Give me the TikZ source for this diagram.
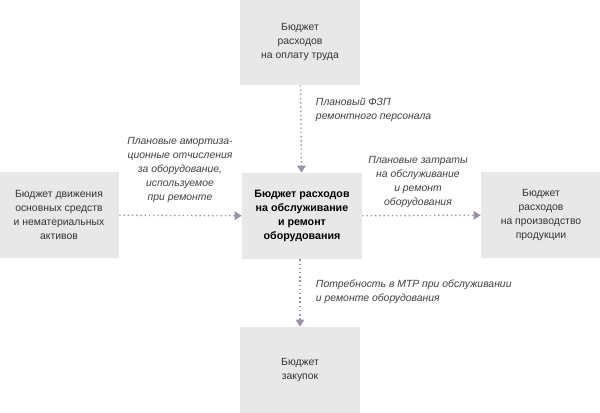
\documentclass[tikz,border=0pt]{standalone}
\usepackage{fontspec}
\setmainfont{Liberation Sans}
\usetikzlibrary{arrows.meta}
\definecolor{boxgray}{HTML}{E9E8E8}
\definecolor{linkcol}{HTML}{9C92A6}
\begin{document}
\begin{tikzpicture}[x=0.025cm, y=-0.025cm, font=\fontsize{7.4}{9.8}\selectfont,
	budget/.style={fill=boxgray, minimum width=3cm, minimum height=2.15cm, align=center, inner sep=0pt},
	link/.style={draw=linkcol, dotted, line width=1pt, -{Triangle[length=5pt,width=6pt]}},
	note/.style={font=\fontsize{7.4}{9.8}\selectfont\itshape, text=black!75, align=center}]
	\useasboundingbox (0,0) rectangle (600,413);
	\node[budget, text=black!80] (T) at (300,42) {Бюджет\\расходов\\на оплату труда};
	\node[budget, text=black!80] (L) at (59,215) {Бюджет движения\\основных средств\\и нематериальных\\активов};
	\node[budget, font=\fontsize{7.6}{10}\selectfont\bfseries] (C) at (302,216) {Бюджет расходов\\на обслуживание\\и ремонт\\оборудования};
	\node[budget, text=black!80] (R) at (541,215) {Бюджет\\расходов\\на производство\\продукции};
	\node[budget, text=black!80] (B) at (300,370) {Бюджет\\закупок};
	\draw [link] (T) to (C);
	\draw [link] (L) to (C);
	\draw [link] (C) to (R);
	\draw [link] (C.south -| B) to (B);
	\node[note, align=left, anchor=west] at (311,110) {Плановый ФЗП\\ремонтного персонала};
	\node[note] at (180,170) {Плановые амортиза-\\ционные отчисления\\за оборудование,\\используемое\\при ремонте};
	\node[note] at (418,182) {Плановые затраты\\на обслуживание\\и ремонт\\оборудования};
	\node[note, align=left, anchor=west] at (311,292) {Потребность в МТР при обслуживании\\и ремонте оборудования};
\end{tikzpicture}
\end{document}
